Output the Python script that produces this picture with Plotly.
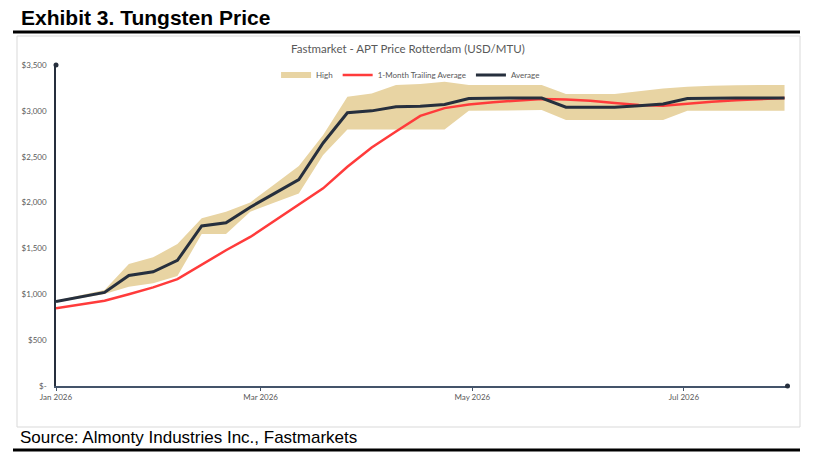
import plotly.graph_objects as go
import pandas as pd

# weekly (Thursday) readings, Jan 1 2026 -> Jul 30 2026
dates = pd.date_range("2026-01-01", periods=31, freq="7D")

average = [920, 970, 1020, 1205, 1245, 1370, 1745, 1780, 1950, 2100,
           2250, 2650, 2980, 3000, 3045, 3050, 3070, 3135, 3140, 3140,
           3140, 3040, 3040, 3040, 3055, 3075, 3135, 3140, 3140, 3140, 3140]

trailing_avg = [847, 890, 930, 1000, 1075, 1165, 1320, 1480, 1625, 1800,
                1975, 2155, 2390, 2600, 2775, 2945, 3030, 3070, 3095, 3115,
                3130, 3125, 3110, 3085, 3065, 3055, 3080, 3100, 3115, 3130, 3140]

high = [930, 990, 1046, 1330, 1403, 1548, 1828, 1900, 2002, 2200,
        2398, 2736, 3154, 3190, 3281, 3292, 3317, 3281, 3281, 3281,
        3281, 3183, 3183, 3183, 3215, 3245, 3263, 3275, 3280, 3281, 3281]

low = [910, 960, 1003, 1083, 1120, 1199, 1657, 1657, 1900, 2000,
       2100, 2518, 2798, 2798, 2798, 2798, 2798, 3001, 3001, 3005,
       3008, 2899, 2899, 2899, 2899, 2899, 3001, 3001, 3001, 3001, 3001]

y_ticks = [0, 500, 1000, 1500, 2000, 2500, 3000, 3500]
y_labels = ["$-", "$500", "$1,000", "$1,500", "$2,000", "$2,500", "$3,000", "$3,500"]

W, H = 813, 465
def px(x):
    return x / W
def py(y):
    return 1 - y / H

tan = "#E8D4A3"
red = "#FF3B3B"
navy = "#262F3D"
grey = "#595959"

fig = go.Figure()
fig.add_trace(go.Scatter(x=dates, y=low, mode="lines", line=dict(width=0, color=tan),
                         showlegend=False, hoverinfo="skip"))
fig.add_trace(go.Scatter(x=dates, y=high, mode="none", fill="tonexty", fillcolor=tan,
                         name="High"))
fig.add_trace(go.Scatter(x=dates, y=trailing_avg, mode="lines",
                         line=dict(color=red, width=2.5), name="1-Month Trailing Average"))
fig.add_trace(go.Scatter(x=dates, y=average, mode="lines",
                         line=dict(color=navy, width=3), name="Average"))

fig.update_layout(
    width=W, height=H,
    margin=dict(l=0, r=0, t=0, b=0, autoexpand=False),
    paper_bgcolor="white", plot_bgcolor="white",
    font=dict(family="Lato, Open Sans, sans-serif", size=8, color=grey),
    xaxis=dict(domain=[px(56), px(788)], range=["2026-01-01", "2026-07-31"],
               type="date", dtick="M2", tick0="2026-01-01", tickformat="%b %Y",
               showgrid=False, zeroline=False, showline=True, linecolor="#44546A",
               linewidth=1.5, ticks="outside", ticklen=3, tickcolor="#44546A",
               automargin=False, tickfont=dict(size=8, color=grey)),
    yaxis=dict(domain=[py(386), py(65)], range=[0, 3500],
               tickvals=y_ticks, ticktext=y_labels, showgrid=False, zeroline=False,
               showline=True, linecolor=navy, linewidth=1.5, ticks="",
               automargin=False, ticklabelstandoff=6, tickfont=dict(size=8, color=grey)),
    legend=dict(orientation="h", x=0.505, xanchor="center", y=py(75), yanchor="middle",
                traceorder="normal", font=dict(size=8, color=grey), itemwidth=30,
                bgcolor="rgba(0,0,0,0)"),
    showlegend=True,
)

# chart frame, rules and axis end dots
fig.add_shape(type="rect", xref="paper", yref="paper", x0=px(17), x1=px(800),
              y0=py(427), y1=py(36), line=dict(color="#D9D9D9", width=1), layer="below")
fig.add_shape(type="line", xref="paper", yref="paper", x0=px(13), x1=px(800),
              y0=py(32), y1=py(32), line=dict(color="black", width=3))
fig.add_shape(type="line", xref="paper", yref="paper", x0=px(13), x1=px(800),
              y0=py(450), y1=py(450), line=dict(color="black", width=3))
fig.add_shape(type="circle", xref="paper", yref="paper", x0=px(53.5), x1=px(58.5),
              y0=py(67.5), y1=py(62.5), fillcolor=navy, line=dict(color=navy, width=0))
fig.add_shape(type="circle", xref="paper", yref="paper", x0=px(785), x1=px(790),
              y0=py(388.5), y1=py(383.5), fillcolor=navy, line=dict(color=navy, width=0))

fig.add_annotation(text="<b>Exhibit 3. Tungsten Price</b>", xref="paper", yref="paper",
                   x=px(19), y=py(17.5), xanchor="left", yanchor="middle", showarrow=False,
                   font=dict(family="Liberation Sans, Arial, sans-serif", size=21, color="black"))
fig.add_annotation(text="Fastmarket - APT Price Rotterdam (USD/MTU)", xref="paper", yref="paper",
                   x=px(408), y=py(49), xanchor="center", yanchor="middle", showarrow=False,
                   font=dict(family="Lato, sans-serif", size=11.5, color=grey))
fig.add_annotation(text="Source: Almonty Industries Inc., Fastmarkets", xref="paper", yref="paper",
                   x=px(18), y=py(437.5), xanchor="left", yanchor="middle", showarrow=False,
                   font=dict(family="Liberation Sans, Arial, sans-serif", size=17, color="black"))

# drop the default page margin so the figure sits at the window's corner
fig.write_html("out.html", config={"displayModeBar": False},
               post_script="document.body.style.margin='0';")
